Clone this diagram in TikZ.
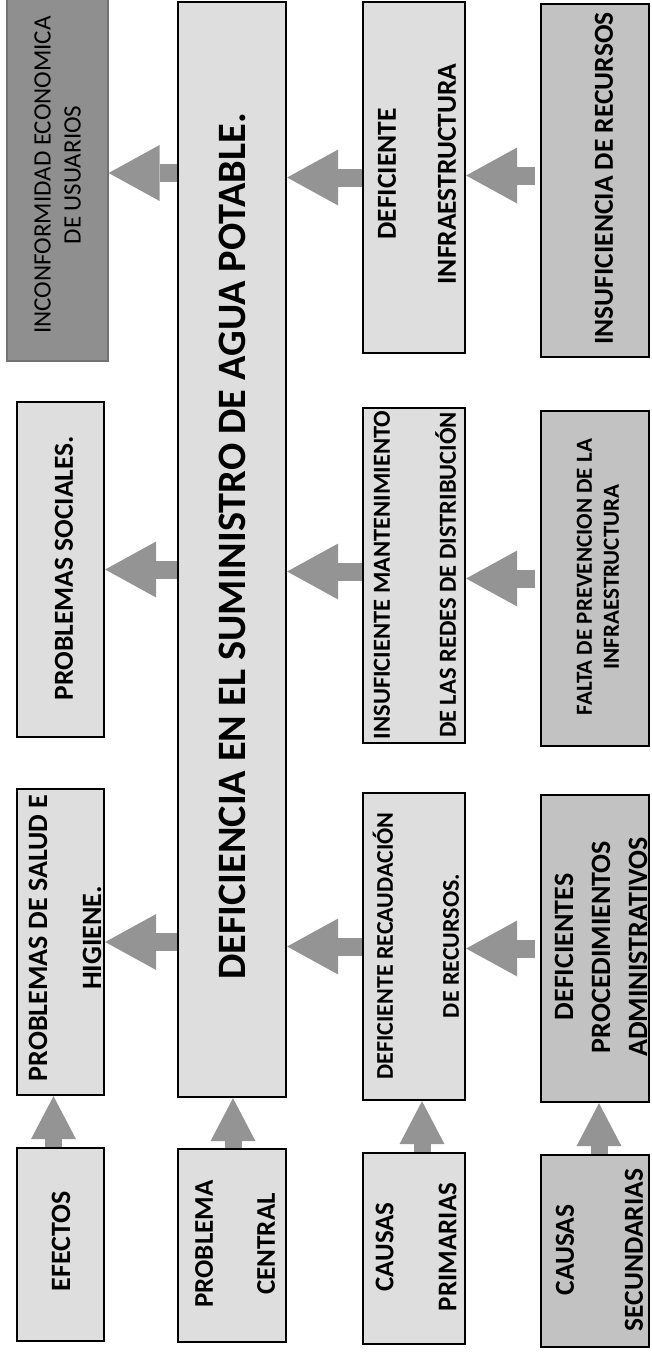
\documentclass[tikz,border=0pt]{standalone}
\usepackage{fontspec}
\setmainfont{Carlito}
\usetikzlibrary{arrows.meta}
\definecolor{lightfill}{gray}{0.87}
\definecolor{midfill}{gray}{0.76}
\definecolor{darkfill}{gray}{0.56}
\definecolor{arrowgray}{gray}{0.58}
\begin{document}
\begin{tikzpicture}[x=1pt,y=-1pt,
  box/.style={rectangle, draw=black, line width=2.3pt, fill=lightfill, inner sep=0pt},
  darkbox/.style={box, fill=midfill},
  txt/.style={rotate=90, align=center, inner sep=0pt, text=black},
  onetxt/.style={rotate=90, inner sep=0pt, text=black},
  harrow/.style={draw=arrowgray, line width=18pt,
    -{Triangle[length=51pt,width=56pt,line width=0pt]}},
  varrow/.style={draw=arrowgray, line width=17pt,
    -{Triangle[length=43pt,width=45pt,line width=0pt]}}
]
\useasboundingbox (0,0) rectangle (652,1352);
\fill[white] (0,0) rectangle (652,1352);

% column 1: effects
\node[box, minimum width=87pt, minimum height=193pt] (eff) at (60.5,1244.5) {};
\node[box, minimum width=87pt, minimum height=306pt] (salud) at (60.5,942) {};
\node[box, minimum width=87pt, minimum height=335pt] (social) at (60.5,569.5) {};
\node[rectangle, draw=black!55, line width=1.2pt, fill=darkfill, inner sep=0pt,
      minimum width=101pt, minimum height=366pt] (incon) at (57.5,178) {};

% column 2: central problem
\node[box, minimum width=108pt, minimum height=193pt] (pc) at (232,1245.5) {};
\node[box, minimum width=108pt, minimum height=1095pt] (central) at (232,549.5) {};

% column 3: primary causes
\node[box, minimum width=102pt, minimum height=191pt] (cp) at (414,1248.5) {};
\node[box, minimum width=102pt, minimum height=307pt] (recaud) at (414,946.5) {};
\node[box, minimum width=102pt, minimum height=335pt] (mant) at (414,575.5) {};
\node[box, minimum width=102pt, minimum height=351pt] (infra) at (414,177.5) {};

% column 4: secondary causes
\node[darkbox, minimum width=108pt, minimum height=192pt] (cs) at (595,1251) {};
\node[darkbox, minimum width=108pt, minimum height=307pt] (proc) at (595,948.5) {};
\node[darkbox, minimum width=108pt, minimum height=335pt] (falta) at (595,578.5) {};
\node[darkbox, minimum width=108pt, minimum height=353pt] (insuf) at (595,180.5) {};

% texts
\node[onetxt, font=\bfseries\fontsize{28}{32}\selectfont] (eff-t) at (61,1241) {EFECTOS};
\node[txt, font=\bfseries\fontsize{28}{54}\selectfont] (salud-t) at (65,938) {PROBLEMAS DE SALUD E\\HIGIENE.};
\node[onetxt, font=\bfseries\fontsize{27.5}{32}\selectfont] (social-t) at (64,568) {PROBLEMAS SOCIALES.};
\node[txt, font=\fontsize{25}{30}\selectfont] (incon-t) at (57.5,175) {INCONFORMIDAD ECONOMICA\\DE USUARIOS};

\node[txt, font=\bfseries\fontsize{27}{62}\selectfont] (pc-t) at (235,1244) {PROBLEMA\\CENTRAL};
\node[onetxt, font=\bfseries\fontsize{40.3}{48}\selectfont] (central-t) at (232,546.5) {DEFICIENCIA EN EL SUMINISTRO DE AGUA POTABLE.};

\node[txt, font=\bfseries\fontsize{27}{63}\selectfont] (cp-t) at (416,1247) {CAUSAS\\PRIMARIAS};
\node[txt, font=\bfseries\fontsize{24}{66}\selectfont] (recaud-t) at (416,946) {DEFICIENTE RECAUDACIÓN\\DE RECURSOS.};
\node[txt, font=\bfseries\fontsize{24.5}{66}\selectfont] (mant-t) at (415,575) {INSUFICIENTE MANTENIMIENTO\\DE LAS REDES DE DISTRIBUCIÓN};
\node[txt, font=\bfseries\fontsize{27.5}{60}\selectfont] (infra-t) at (417,174) {DEFICIENTE\\INFRAESTRUCTURA};

\node[txt, font=\bfseries\fontsize{27.5}{69}\selectfont] (cs-t) at (599.5,1250) {CAUSAS\\SECUNDARIAS};
\node[txt, font=\bfseries\fontsize{28}{37}\selectfont] (proc-t) at (601,947) {DEFICIENTES\\PROCEDIMIENTOS\\ADMINISTRATIVOS};
\node[txt, font=\bfseries\fontsize{23}{27}\selectfont] (falta-t) at (598,577) {FALTA DE PREVENCION DE LA\\INFRAESTRUCTURA};
\node[onetxt, font=\bfseries\fontsize{27.5}{33}\selectfont] (insuf-t) at (604,178.5) {INSUFICIENCIA DE RECURSOS};

% horizontal arrows (pointing toward effects)
\draw[harrow] (central.west |- salud.east) -- (salud.east);
\draw[harrow] (recaud.west) -- (central.east |- recaud.west);
\draw[harrow, shorten <=5pt] (proc.west) -- (recaud.east |- proc.west);

\draw[harrow] (central.west |- social.east) -- (social.east);
\draw[harrow] ([yshift=4pt]mant.west) -- ([yshift=4pt]central.east |- mant.west);
\draw[harrow, shorten <=5pt] (falta.west) -- (mant.east |- falta.west);

\draw[harrow] ([yshift=5pt]central.west |- incon.east) -- ([yshift=5pt]incon.east);
\draw[harrow] (infra.west) -- (central.east |- infra.west);
\draw[harrow, shorten <=5pt] ([yshift=5pt]insuf.west) -- ([yshift=5pt]infra.east |- insuf.west);

% vertical arrows (bottom row)
\draw[varrow] ([xshift=-7pt]eff.north) -- ([xshift=-7pt]salud.south);
\draw[varrow] ([xshift=1pt]pc.north) -- ([xshift=1pt]central.south);
\draw[varrow] ([xshift=8pt]cp.north) -- ([xshift=8pt]recaud.south);
\draw[varrow] ([xshift=4pt]cs.north) -- ([xshift=4pt]proc.south);
\end{tikzpicture}
\end{document}
